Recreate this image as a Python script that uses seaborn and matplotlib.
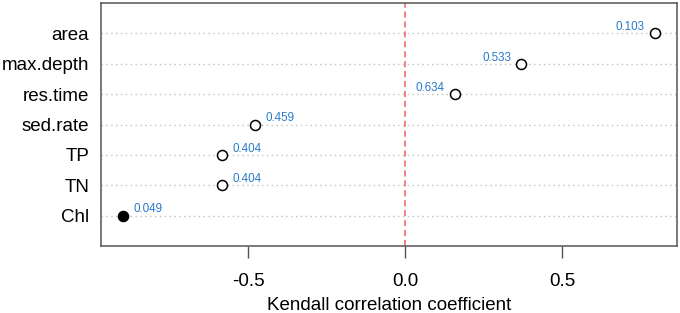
import matplotlib
matplotlib.use("Agg")
import matplotlib.pyplot as plt
import seaborn as sns
import pandas as pd
import numpy as np

# Kendall correlation per variable (top to bottom) with p-values
variables = ['area', 'max.depth', 'res.time', 'sed.rate', 'TP', 'TN', 'Chl']
tau = [0.796, 0.371, 0.159, -0.478, -0.582, -0.582, -0.899]
p_values = ['0.103', '0.533', '0.634', '0.459', '0.404', '0.404', '0.049']

sns.set_theme(style="white")
plt.rcParams['font.family'] = ['Liberation Sans', 'DejaVu Sans']

df = pd.DataFrame({'variable': variables, 'tau': tau, 'p': p_values})
df['pos'] = np.arange(len(df), 0, -1)
df['signif'] = df['p'].astype(float) < 0.05

fig = plt.figure(figsize=(6.8, 3.13), dpi=100)
ax = fig.add_axes([0.1485, 0.214, 0.847, 0.776])

# dotted guide lines across each row
for y in df['pos']:
    ax.axhline(y, color='#c0c0c0', linestyle=(0, (1, 2.5)), linewidth=1, zorder=0)

ax.axvline(0, color='#ef5f5f', linestyle=(0, (4, 2.5)), linewidth=1.1, zorder=1)

sns.scatterplot(data=df[~df['signif']], x='tau', y='pos', ax=ax,
                marker='o', s=52, facecolor='white', edgecolor='black',
                linewidth=1.1, zorder=3)
sns.scatterplot(data=df[df['signif']], x='tau', y='pos', ax=ax,
                marker='o', s=52, color='black', edgecolor='black',
                linewidth=1.1, zorder=3)

for _, r in df.iterrows():
    if r['tau'] > 0:
        ax.annotate(r['p'], (r['tau'], r['pos']), xytext=(-7.5, 4.5),
                    textcoords='offset points', ha='right', va='center',
                    fontsize=8.4, color='#2b7bcb')
    else:
        ax.annotate(r['p'], (r['tau'], r['pos']), xytext=(7.5, 4.5),
                    textcoords='offset points', ha='left', va='center',
                    fontsize=8.4, color='#2b7bcb')

ax.set_xlim(-0.968, 0.866)
ax.set_ylim(0, len(df) + 1)
ax.set_xticks([-0.5, 0.0, 0.5])
ax.set_xticklabels(['-0.5', '0.0', '0.5'])
ax.set_yticks(df['pos'])
ax.set_yticklabels(df['variable'])
ax.tick_params(axis='x', length=8.5, width=1, color='#555555', pad=11,
               labelsize=13.5, labelcolor='black', bottom=True)
ax.tick_params(axis='y', length=0, pad=8.5, labelsize=13.5, labelcolor='black')
ax.set_xlabel('Kendall correlation coefficient', fontsize=13.5, labelpad=5,
              color='black')
ax.set_ylabel('')

for s in ax.spines.values():
    s.set_color('#555555')
    s.set_linewidth(1.1)

fig.savefig('out.png', dpi=100, facecolor='white')
plt.close()
